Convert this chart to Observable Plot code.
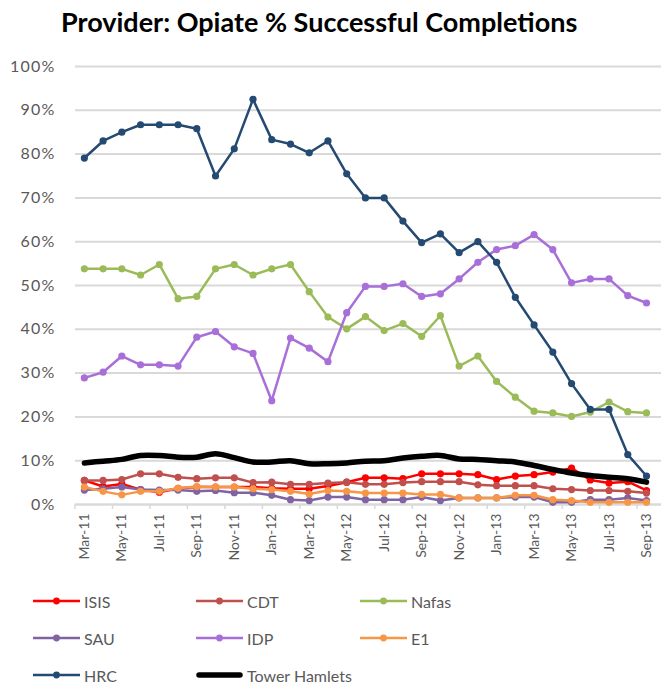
<!DOCTYPE html>
<html><head><meta charset="utf-8">
<script src="https://cdn.jsdelivr.net/npm/d3@7"></script>
<script src="https://cdn.jsdelivr.net/npm/@observablehq/plot@0.6"></script>
<style>
body{margin:0;background:#fff;font-family:Lato,"Open Sans",sans-serif;}
#title{height:44px;line-height:44px;font-weight:bold;font-size:27px;color:#000;padding-left:61px;white-space:nowrap;}
#legend{position:relative;height:111px;}
.item{position:absolute;display:flex;align-items:center;font-size:16px;color:#595959;height:20px;}
.item svg{margin-right:4px;}
g[aria-label="y-axis tick label"] text{letter-spacing:1.2px;}
</style></head><body>
<div id="title">Provider: Opiate % Successful Completions</div>
<div id="chart"></div>
<div id="legend"></div>
<script>
const months = ["Mar-11","Apr-11","May-11","Jun-11","Jul-11","Aug-11","Sep-11","Oct-11","Nov-11","Dec-11","Jan-12","Feb-12","Mar-12","Apr-12","May-12","Jun-12","Jul-12","Aug-12","Sep-12","Oct-12","Nov-12","Dec-12","Jan-13","Feb-13","Mar-13","Apr-13","May-13","Jun-13","Jul-13","Aug-13","Sep-13"];
const yTicks = [0,10,20,30,40,50,60,70,80,90,100];
const seriesNames = ["ISIS","CDT","Nafas","SAU","IDP","E1","HRC","Tower Hamlets"];
const seriesColors = ["#FF0000","#C0504D","#9BBB59","#8064A2","#A86FD8","#F79646","#254A72","#000000"];
const ISIS = [5.5,4.1,4.7,3.4,2.8,3.7,4.0,4.0,4.0,4.0,3.7,3.6,3.6,4.2,5.1,6.1,6.1,5.9,7.0,7.0,7.0,6.8,5.7,6.5,6.8,7.4,8.3,5.6,4.9,5.2,3.2];
const CDT = [5.5,5.5,5.7,7.0,7.0,6.2,5.9,6.1,6.1,5.0,5.1,4.6,4.6,4.9,5.1,4.6,4.6,5.0,5.2,5.2,5.2,4.5,4.3,4.3,4.3,3.6,3.4,3.2,3.2,3.0,2.6];
const Nafas = [53.8,53.8,53.8,52.4,54.8,47.0,47.5,53.8,54.8,52.4,53.8,54.8,48.6,42.8,40.1,42.9,39.7,41.3,38.4,43.1,31.6,33.9,28.1,24.5,21.3,20.9,20.1,21.1,23.4,21.2,20.9];
const SAU = [3.3,3.6,4.0,3.4,3.3,3.3,3.0,3.2,2.7,2.7,2.1,1.1,0.9,1.7,1.7,1.1,1.1,1.1,1.7,0.9,1.5,1.5,1.5,1.7,1.7,0.5,0.5,1.1,1.1,1.5,0.9];
const IDP = [28.9,30.2,33.9,31.9,31.9,31.6,38.2,39.5,36.0,34.5,23.7,38.0,35.7,32.6,43.8,49.8,49.8,50.4,47.5,48.1,51.5,55.3,58.2,59.1,61.6,58.2,50.6,51.5,51.5,47.7,46.0];
const E1 = [4.0,3.0,2.2,3.0,3.0,3.7,4.1,4.0,4.0,3.6,3.4,3.0,2.4,3.2,3.0,2.6,2.6,2.6,2.3,2.3,1.5,1.5,1.5,2.1,2.1,1.1,0.9,0.5,0.5,0.5,0.5];
const HRC = [79.1,83.0,85.0,86.7,86.7,86.7,85.8,75.0,81.2,92.5,83.3,82.3,80.3,83.0,75.5,70.0,70.0,64.7,59.8,61.8,57.5,60.0,55.3,47.3,41.0,34.8,27.6,21.7,21.7,11.4,6.5];
const TowerHamlets = [9.5,9.9,10.3,11.2,11.2,10.8,10.8,11.6,10.7,9.7,9.7,10.0,9.3,9.3,9.5,9.9,10.0,10.6,11.0,11.2,10.4,10.3,10.0,9.7,8.9,8.0,7.2,6.6,6.2,5.9,5.1];

const seriesValues = [ISIS, CDT, Nafas, SAU, IDP, E1, HRC, TowerHamlets];
const rows = [];
seriesNames.forEach((name, s) => seriesValues[s].forEach((v, i) => rows.push({series: name, i, v, color: seriesColors[s]})));
const labelIdx = months.map((m, i) => i).filter(i => i % 2 === 0);
const boundaries = months.map((m, i) => i - 0.5).filter((b, k) => k % 2 === 0);

const lineMarks = [];
seriesNames.forEach((name, s) => {
  const data = rows.filter(r => r.series === name);
  if (name === "Tower Hamlets") {
    lineMarks.push(Plot.line(data, {x: "i", y: "v", stroke: seriesColors[s], strokeWidth: 5.5, curve: "catmull-rom"}));
  } else {
    lineMarks.push(Plot.line(data, {x: "i", y: "v", stroke: seriesColors[s], strokeWidth: 2.5}));
    lineMarks.push(Plot.dot(data, {x: "i", y: "v", fill: seriesColors[s], r: 3.6}));
  }
});

const chart = Plot.plot({
  width: 661, height: 530,
  marginLeft: 75, marginRight: 0, marginTop: 22, marginBottom: 70,
  style: {fontFamily: "Lato, 'Open Sans', sans-serif", color: "#595959", background: "white", overflow: "visible"},
  x: {type: "linear", domain: [-0.473, 30.8]},
  y: {domain: [0, 100]},
  marks: [
    Plot.gridY(yTicks, {stroke: "#D9D9D9", strokeOpacity: 1, strokeWidth: 2}),
    Plot.axisY(yTicks, {tickSize: 0, tickPadding: 20, tickFormat: d => d + "%", fontSize: 16, label: null}),
    Plot.ruleY([0], {stroke: "#D9D9D9", strokeWidth: 2}),
    Plot.axisX(boundaries, {tickSize: 5, tickFormat: () => "", stroke: "#D9D9D9", strokeWidth: 1.5, label: null}),
    Plot.axisX(labelIdx, {tickSize: 0, tickPadding: 9, tickRotate: -90, tickFormat: i => months[i], fontSize: 14, label: null}),
    ...lineMarks
  ]
});
document.getElementById("chart").appendChild(chart);

const legend = document.getElementById("legend");
const colX = [33, 196, 360];
const rowY = [17, 54, 91];
seriesNames.forEach((name, s) => {
  const div = document.createElement("div");
  div.className = "item";
  div.style.left = colX[s % 3] + "px";
  div.style.top = rowY[Math.floor(s / 3)] + "px";
  const thick = name === "Tower Hamlets";
  div.innerHTML = `<svg width="47" height="20">` +
    (thick ? `<line x1="3" x2="44" y1="10" y2="10" stroke="${seriesColors[s]}" stroke-width="5.5" stroke-linecap="round"/>`
           : `<line x1="0" x2="47" y1="10" y2="10" stroke="${seriesColors[s]}" stroke-width="2.5"/><circle cx="23.5" cy="10" r="3.4" fill="${seriesColors[s]}"/>`) +
    `</svg><span>${name}</span>`;
  legend.appendChild(div);
});
</script>
</body></html>
